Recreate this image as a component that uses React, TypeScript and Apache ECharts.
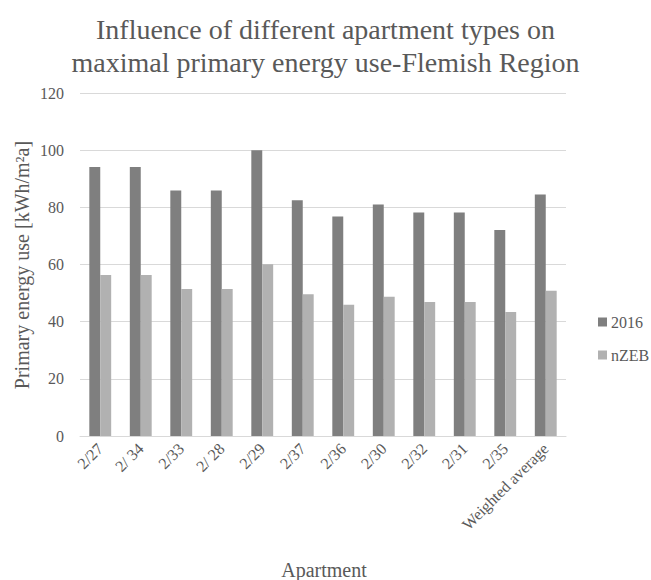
import React, { useEffect, useRef } from "react";
import * as echarts from "echarts";

// Apartment types on the category axis
const apartments = [
  "2/27",
  "2/ 34",
  "2/33",
  "2/ 28",
  "2/29",
  "2/37",
  "2/36",
  "2/30",
  "2/32",
  "2/31",
  "2/35",
  "Weighted average",
];

// Maximal primary energy use, kWh/m²a
const values2016 = [94.1, 94.1, 85.9, 85.9, 100, 82.5, 76.8, 81.0, 78.2, 78.2, 72.1, 84.5];
const valuesNZEB = [56.3, 56.3, 51.4, 51.4, 60.1, 49.6, 45.9, 48.7, 46.9, 46.9, 43.4, 50.8];

const yTicks = { min: 0, max: 120, interval: 20 };

const FONT = "Liberation Serif";
const TEXT = "#595959";

export default function App() {
  const ref = useRef<HTMLDivElement>(null);

  useEffect(() => {
    if (!ref.current) return;
    const chart = echarts.init(ref.current, undefined, { renderer: "svg" });
    chart.setOption({
      animation: false,
      backgroundColor: "#ffffff",
      textStyle: { fontFamily: FONT },
      title: {
        text: "Influence of different apartment types on\nmaximal primary energy use-Flemish Region",
        left: "center",
        top: 8,
        padding: [5, 0, 5, 7],
        textStyle: {
          fontFamily: FONT,
          fontSize: 28,
          fontWeight: "normal",
          color: TEXT,
          lineHeight: 33,
        },
      },
      legend: {
        orient: "vertical",
        left: 593,
        top: 309,
        itemWidth: 9,
        itemHeight: 9,
        itemGap: 17,
        icon: "rect",
        textStyle: { fontFamily: FONT, fontSize: 16, color: TEXT, padding: [0, 0, 0, -1] },
        data: ["2016", "nZEB"],
      },
      grid: { left: 80, right: 85, top: 93, bottom: 144, containLabel: false },
      xAxis: {
        type: "category",
        data: apartments,
        axisLine: { show: true, lineStyle: { color: "#d9d9d9", width: 1 } },
        axisTick: { show: false },
        axisLabel: {
          rotate: 45,
          interval: 0,
          margin: 10,
          fontFamily: FONT,
          fontSize: 16,
          color: TEXT,
        },
      },
      yAxis: {
        type: "value",
        min: yTicks.min,
        max: yTicks.max,
        interval: yTicks.interval,
        axisLine: { show: false },
        axisTick: { show: false },
        splitLine: { lineStyle: { color: "#d9d9d9", width: 1 } },
        axisLabel: { margin: 16, fontFamily: FONT, fontSize: 16, color: TEXT },
      },
      graphic: [
        {
          type: "text",
          x: 22,
          y: 265,
          rotation: Math.PI / 2,
          style: {
            text: "Primary energy use [kWh/m²a]",
            fontFamily: FONT,
            fontSize: 20,
            fill: TEXT,
            align: "center",
            verticalAlign: "middle",
          },
        },
        {
          type: "text",
          x: 324,
          y: 570,
          style: {
            text: "Apartment",
            fontFamily: FONT,
            fontSize: 20,
            fill: TEXT,
            align: "center",
            verticalAlign: "middle",
          },
        },
      ],
      series: [
        {
          name: "2016",
          type: "bar",
          data: values2016,
          barGap: "0%",
          barCategoryGap: "46%",
          itemStyle: { color: "#7f7f7f" },
        },
        {
          name: "nZEB",
          type: "bar",
          data: valuesNZEB,
          itemStyle: { color: "#b1b1b1" },
        },
      ],
    });
    return () => chart.dispose();
  }, []);

  return (
    <div
      ref={ref}
      style={{ position: "fixed", left: 0, top: 0, width: 651, height: 580, background: "#fff" }}
    />
  );
}
